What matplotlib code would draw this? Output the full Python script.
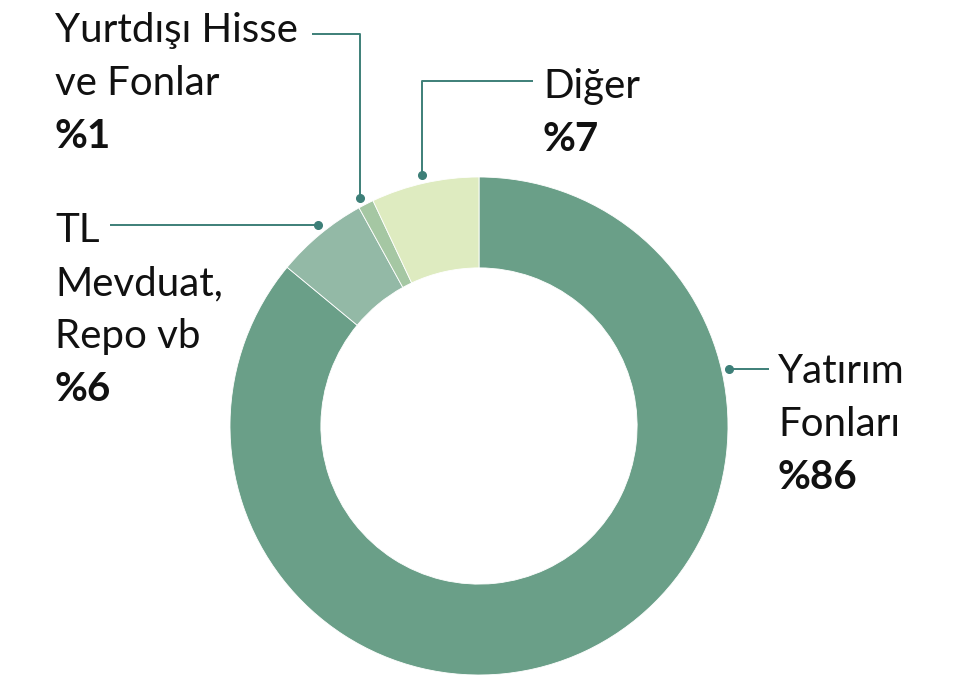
import matplotlib.pyplot as plt

labels = ['Yatırım\nFonları', 'TL\nMevduat,\nRepo vb', 'Yurtdışı Hisse\nve Fonlar', 'Diğer']
shares = [86, 6, 1, 7]
pct_labels = ['%86', '%6', '%1', '%7']
colors = ['#6a9f88', '#93b9a6', '#a5c7a3', '#deebc0']
line_color = '#3d7f78'

W, H = 958, 675
plt.rcParams['font.family'] = ['Lato', 'DejaVu Sans']

fig = plt.figure(figsize=(W / 100, H / 100), dpi=100)
ax = fig.add_axes([0, 0, 1, 1])
ax.set_xlim(0, W)
ax.set_ylim(0, H)
ax.set_aspect('equal')
ax.axis('off')

# donut, center in pixel coords (y measured from top)
cx, cy, r = 479, 426, 249
ax.pie(shares, colors=colors, startangle=90, counterclock=False,
       center=(cx, H - cy), radius=r, frame=True,
       wedgeprops=dict(width=r * 0.365, edgecolor='white', linewidth=0.6))
ax.set_xlim(0, W)
ax.set_ylim(0, H)
ax.axis('off')

def y(v):
    return H - v

# leader lines: (points of polyline), dot at last point
leaders = [
    [(769, 369), (729, 369)],
    [(110, 225), (318, 225)],
    [(312, 34), (360, 34), (360, 198)],
    [(533, 81), (422, 81), (422, 175)],
]
for pts in leaders:
    xs = [p[0] for p in pts]
    ys = [y(p[1]) for p in pts]
    ax.plot(xs, ys, color=line_color, lw=1.4, solid_capstyle='butt')
    ax.plot(xs[-1], ys[-1], 'o', color=line_color, ms=5.5)

# text blocks: left x, first baseline
text_pos = [(778, 383), (55, 242), (55, 42), (543, 98)]
fs = 29
lh = 53
for lab, pct, (tx, tb) in zip(labels, pct_labels, text_pos):
    lines = lab.split('\n')
    for i, line in enumerate(lines):
        ax.text(tx, y(tb + i * lh), line, fontsize=fs, va='baseline', ha='left', color='#111111')
    ax.text(tx, y(tb + len(lines) * lh), pct, fontsize=fs, fontweight='bold',
            va='baseline', ha='left', color='#111111')

fig.savefig('out.png', dpi=100)
